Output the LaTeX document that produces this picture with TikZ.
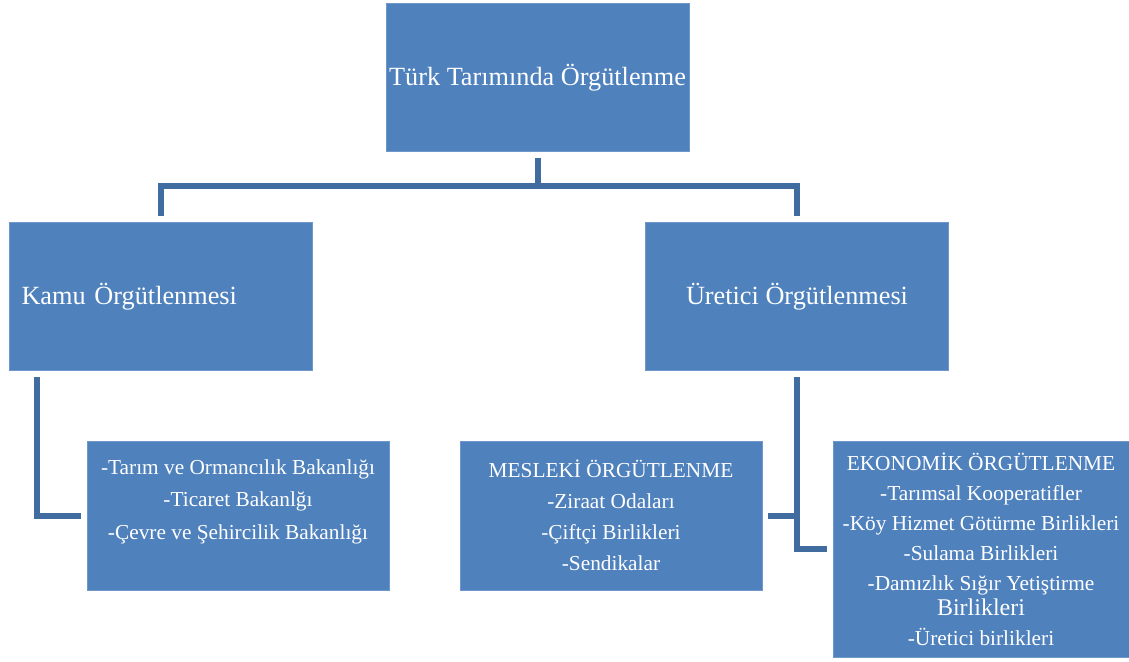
\documentclass[tikz,border=0pt]{standalone}
\usepackage{fontspec}
\setmainfont{Liberation Serif}
\usepackage{tikz}
\usetikzlibrary{calc}
\definecolor{kutu}{RGB}{79,129,189}
\definecolor{kenar}{RGB}{110,152,204}
\definecolor{hat}{RGB}{64,108,160}
\newcommand{\px}{0.75pt}

\begin{document}
\begin{tikzpicture}[x=0.75pt,y=-0.75pt,line join=miter]
	\tikzstyle{kutu}=[rectangle,fill=kutu,draw=kenar,line width=0.6pt,text=white,inner sep=0pt];
	\tikzstyle{buyuk}=[kutu,minimum width=303*\px,minimum height=148*\px,font=\fontsize{19.7}{24}\selectfont];
	\tikzstyle{kucuk}=[kutu,minimum width=302*\px,minimum height=149*\px,align=center];
	\tikzstyle{hat}=[draw=hat,line width=4.5pt,shorten <=4.5pt,shorten >=4.5pt];
%<--------------------------------------------------------------------------->%
	\useasboundingbox (0,0) rectangle (1129,661);

	\node[buyuk] (turk) at (537.5,77.5) {Türk Tarımında Örgütlenme};
	\node[buyuk,text width=279*\px,align=left] (kamu) at (161,296.5) {Kamu Örgütlenmesi};
	\node[buyuk] (uret) at (797,296.5) {Üretici Örgütlenmesi};

	\node[kucuk,font=\fontsize{16}{24.4}\selectfont] (bakan) at (238,515.5)
		{-Tarım ve Ormancılık Bakanlığı\\-Ticaret Bakanlğı\\-Çevre ve Şehircilik Bakanlığı\\~};
	\node[kucuk,font=\fontsize{16}{23.3}\selectfont] (mesl) at (611,515.5)
		{MESLEKİ ÖRGÜTLENME\\-Ziraat Odaları\\-Çiftçi Birlikleri\\-Sendikalar};
	\node[kucuk,minimum width=296*\px,minimum height=216*\px,font=\fontsize{16}{22.5}\selectfont] (ekon) at (981,549)
		{EKONOMİK ÖRGÜTLENME\\-Tarımsal Kooperatifler\\-Köy Hizmet Götürme Birlikleri\\-Sulama Birlikleri\\-Damızlık Sığır Yetiştirme\\[-4pt]{\fontsize{18}{22.5}\selectfont Birlikleri}\\-Üretici birlikleri};

	%% baglantilar
	\coordinate (ayrim) at (turk.south |- 0,186);
	\draw[hat] (turk.south) -- (ayrim) -| (kamu.north);
	\draw[hat,shorten <=0pt] (ayrim) -| (uret.north);
	\draw[hat] ($(kamu.south west)+(28,0)$) |- (bakan.west);
	\draw[hat] (uret.south) |- (ekon.west);
	\draw[hat,shorten >=0pt] (mesl.east) -- (mesl.east -| uret.south);
\end{tikzpicture}
\end{document}
